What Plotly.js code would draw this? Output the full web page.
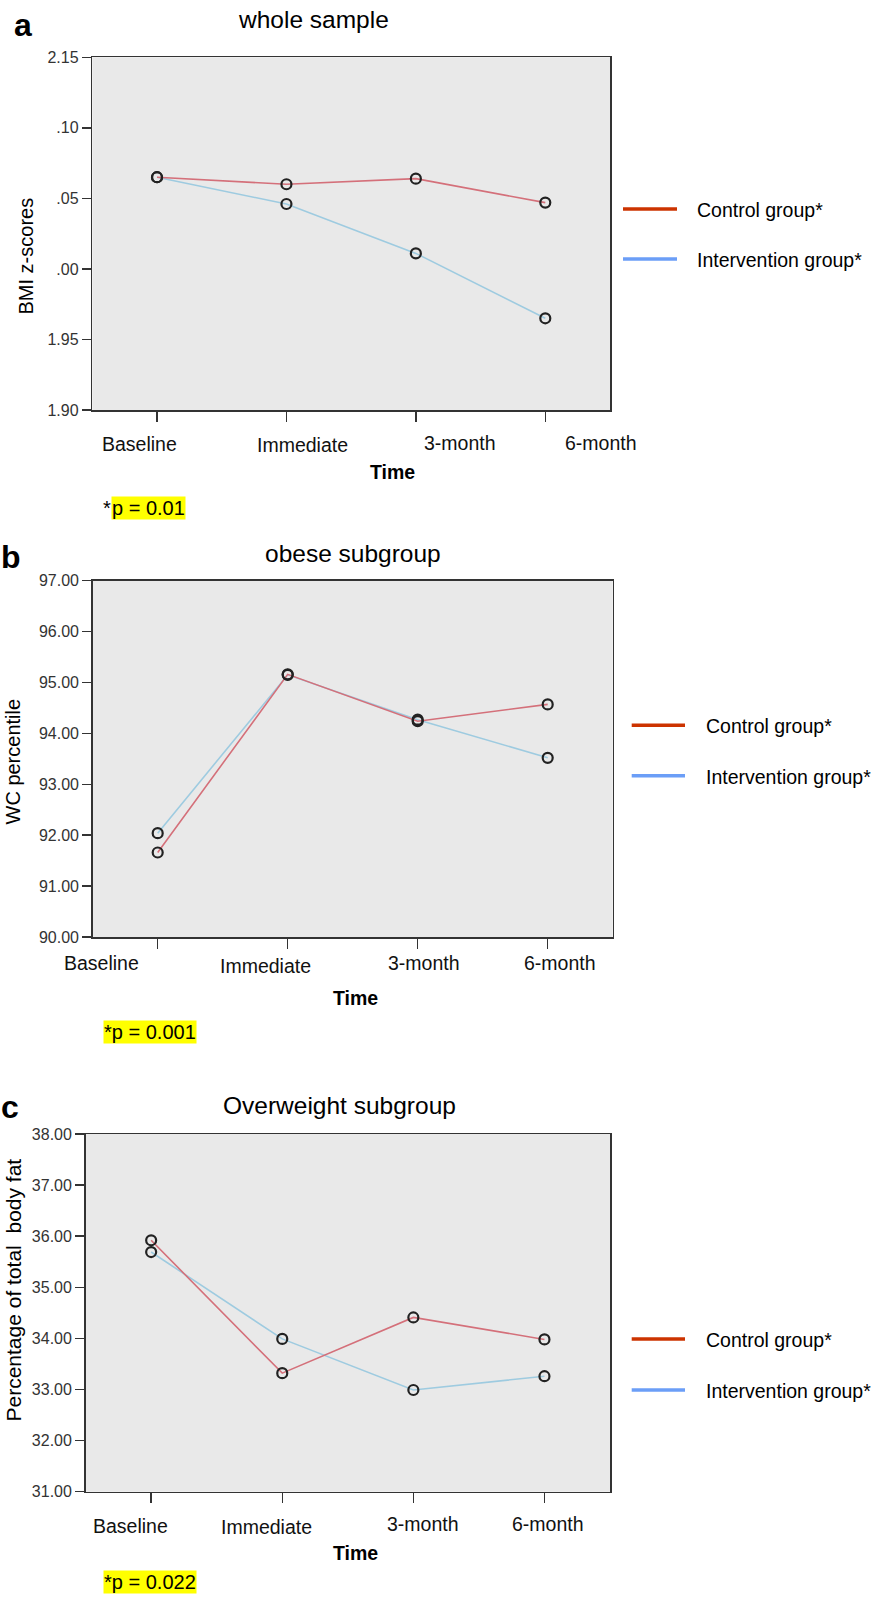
<!DOCTYPE html>
<html>
<head>
<meta charset="utf-8">
<script src="https://cdn.plot.ly/plotly-3.0.1.min.js"></script>
<style>html,body{margin:0;padding:0;background:#fff;}#chart{width:877px;height:1597px;}</style>
</head>
<body>
<div id="chart"></div>
<script>
// ---------- data ----------
const timepoints = ['Baseline', 'Immediate', '3-month', '6-month'];
const seriesNames = ['Control group*', 'Intervention group*'];

// a: whole sample, BMI z-scores
const bmiControl      = [2.065, 2.060, 2.064, 2.047];
const bmiIntervention = [2.065, 2.046, 2.011, 1.965];
const bmiTickVals  = [1.90, 1.95, 2.00, 2.05, 2.10, 2.15];
const bmiTickText  = ['1.90', '1.95', '.00', '.05', '.10', '2.15'];

// b: obese subgroup, WC percentile
const wcControl      = [91.66, 95.16, 94.24, 94.57];
const wcIntervention = [92.04, 95.15, 94.27, 93.52];

// c: overweight subgroup, % total body fat
const fatControl      = [35.92, 33.32, 34.41, 33.98];
const fatIntervention = [35.69, 33.99, 32.99, 33.26];

const panelTitles = ['whole sample', 'obese subgroup', 'Overweight subgroup'];
const panelLetters = ['a', 'b', 'c'];
const yTitles = ['BMI z-scores', 'WC percentile', 'Percentage of total  body fat'];
const xTitle = 'Time';
const pTexts = ['p = 0.01', '*p = 0.001', '*p = 0.022'];

// ---------- styling / layout ----------
const W = 877, H = 1597;
const FONT = 'Liberation Sans, Arial, sans-serif';
const ctrlLine = '#d4707a', intLine = '#9ecbe0';
const ctrlLegend = '#cc3300', intLegend = '#6b9ef7';
const yp = v => 1 - v / H;
const xp = v => v / W;

const panels = [
  {x:[92.3,610], y:[57.3,410], ctrl:bmiControl, int:bmiIntervention,
   yr:[1.90,2.15], tickvals:bmiTickVals, ticktext:bmiTickText,
   labelY:[444,445,443,443], labelShift:[-18,16,44,56], timeX:392, timeY:472,
   titleX:313.7, titleY:19.5, letterX:23, letterY:25,
   yTitleX:25.5, yTitleY:256, yTitleSize:20,
   legX:[623,677], legY:[209,259], legTextX:695},
  {x:[92.7,612.7], y:[580.7,937], ctrl:wcControl, int:wcIntervention,
   yr:[90,97], dtick:1,
   labelY:[963,966,963,963], labelShift:[-56,-22,6,12], timeX:355.5, timeY:998,
   titleX:353.4, titleY:553, letterX:11, letterY:557,
   yTitleX:12.5, yTitleY:762, yTitleSize:20,
   legX:[631.7,685], legY:[725.3,775.7], legTextX:704},
  {x:[85.6,610], y:[1134,1491.7], ctrl:fatControl, int:fatIntervention,
   yr:[31,38], dtick:1,
   labelY:[1526,1527,1524,1524], labelShift:[-21,-16,10,4], timeX:355.5, timeY:1553,
   titleX:339, titleY:1105, letterX:10, letterY:1107,
   yTitleX:12.5, yTitleY:1290, yTitleSize:21,
   legX:[631.7,685], legY:[1339,1390], legTextX:704}
];

const traces = [];
const annotations = [];
const shapes = [];
const layout = {
  width: W, height: H,
  margin: {l:0, r:0, t:0, b:0},
  paper_bgcolor: '#ffffff',
  showlegend: false,
  font: {family: FONT, color: '#000'}
};

panels.forEach((p, i) => {
  const n = i === 0 ? '' : String(i + 1);
  const xa = 'x' + n, ya = 'y' + n;
  layout['xaxis' + n] = {
    domain: [xp(p.x[0]), xp(p.x[1])],
    anchor: ya, type: 'category', categoryorder: 'array', categoryarray: timepoints,
    range: [-0.5, 3.5], showgrid: false, zeroline: false,
    showline: true, mirror: true, linecolor: '#333', linewidth: 1.5,
    ticks: 'outside', ticklen: 10, tickwidth: 1.5, tickcolor: '#333',
    showticklabels: false, fixedrange: true
  };
  const yax = {
    domain: [yp(p.y[1]), yp(p.y[0])],
    anchor: xa, range: p.yr, showgrid: false, zeroline: false,
    showline: true, mirror: true, linecolor: '#333', linewidth: 1.5,
    ticks: 'outside', ticklen: 9, tickwidth: 1.5, tickcolor: '#333',
    tickfont: {family: FONT, size: 16, color: '#333'}, fixedrange: true
  };
  if (p.tickvals) { yax.tickmode = 'array'; yax.tickvals = p.tickvals; yax.ticktext = p.ticktext; }
  else { yax.tickmode = 'linear'; yax.tick0 = p.yr[0]; yax.dtick = p.dtick; yax.tickformat = '.2f'; }
  layout['yaxis' + n] = yax;

  // plot background
  shapes.push({type:'rect', xref: xa + ' domain', yref: ya + ' domain', x0:0, x1:1, y0:0, y1:1,
    fillcolor:'#e9e9e9', line:{width:0}, layer:'below'});

  // lines
  traces.push({x: timepoints, y: p.int, xaxis: xa, yaxis: ya, mode: 'lines',
    line: {color: intLine, width: 1.6}, name: seriesNames[1], hoverinfo: 'skip'});
  traces.push({x: timepoints, y: p.ctrl, xaxis: xa, yaxis: ya, mode: 'lines',
    line: {color: ctrlLine, width: 1.6}, name: seriesNames[0], hoverinfo: 'skip'});
  // markers
  [p.int, p.ctrl].forEach(vals => traces.push({x: timepoints, y: vals, xaxis: xa, yaxis: ya,
    mode: 'markers', marker: {symbol: 'circle', size: 10, color: 'rgba(0,0,0,0)',
    line: {color: '#222', width: 2.2}}, hoverinfo: 'skip'}));

  // category tick labels
  timepoints.forEach((t, k) => annotations.push({xref: xa, yref: 'paper', x: t, y: yp(p.labelY[k]),
    xshift: p.labelShift[k], text: t, showarrow: false, xanchor: 'center', yanchor: 'middle',
    font: {family: FONT, size: 19.5, color: '#111'}}));

  // x title
  annotations.push({xref:'paper', yref:'paper', x: xp(p.timeX), y: yp(p.timeY), text: '<b>' + xTitle + '</b>',
    showarrow:false, xanchor:'center', yanchor:'middle', font:{family: FONT, size: 19.5, color:'#000'}});
  // y title
  annotations.push({xref:'paper', yref:'paper', x: xp(p.yTitleX), y: yp(p.yTitleY), text: yTitles[i],
    textangle: -90, showarrow:false, xanchor:'center', yanchor:'middle',
    font:{family: FONT, size: p.yTitleSize, color:'#000'}});
  // panel title
  annotations.push({xref:'paper', yref:'paper', x: xp(p.titleX), y: yp(p.titleY), text: panelTitles[i],
    showarrow:false, xanchor:'center', yanchor:'middle', font:{family: FONT, size: 24.5, color:'#000'}});
  // panel letter
  annotations.push({xref:'paper', yref:'paper', x: xp(p.letterX), y: yp(p.letterY), text: '<b>' + panelLetters[i] + '</b>',
    showarrow:false, xanchor:'center', yanchor:'middle', font:{family: FONT, size: 32, color:'#000'}});

  // legend
  [ctrlLegend, intLegend].forEach((c, k) => {
    shapes.push({type:'line', xref:'paper', yref:'paper', x0: xp(p.legX[0]), x1: xp(p.legX[1]),
      y0: yp(p.legY[k]), y1: yp(p.legY[k]), line:{color: c, width: 3.5}});
    annotations.push({xref:'paper', yref:'paper', x: xp(p.legTextX), y: yp(p.legY[k] + 1), text: seriesNames[k],
      showarrow:false, xanchor:'left', yanchor:'middle', font:{family: FONT, size: 19.5, color:'#000'}});
  });
});

// p-value notes
annotations.push({xref:'paper', yref:'paper', x: xp(111.5), y: yp(508), text: '*', borderpad: 0,
  showarrow:false, xanchor:'right', yanchor:'middle', font:{family: FONT, size: 20, color:'#000'}});
annotations.push({xref:'paper', yref:'paper', x: xp(111), y: yp(508), text: pTexts[0], bgcolor:'#ffff00', borderpad:0,
  showarrow:false, xanchor:'left', yanchor:'middle', font:{family: FONT, size: 20, color:'#000'}});
annotations.push({xref:'paper', yref:'paper', x: xp(103), y: yp(1032), text: pTexts[1], bgcolor:'#ffff00', borderpad:0,
  showarrow:false, xanchor:'left', yanchor:'middle', font:{family: FONT, size: 20, color:'#000'}});
annotations.push({xref:'paper', yref:'paper', x: xp(103), y: yp(1582), text: pTexts[2], bgcolor:'#ffff00', borderpad:0,
  showarrow:false, xanchor:'left', yanchor:'middle', font:{family: FONT, size: 20, color:'#000'}});

layout.annotations = annotations;
layout.shapes = shapes;

Plotly.newPlot('chart', traces, layout, {displayModeBar: false, staticPlot: true});
</script>
</body>
</html>
